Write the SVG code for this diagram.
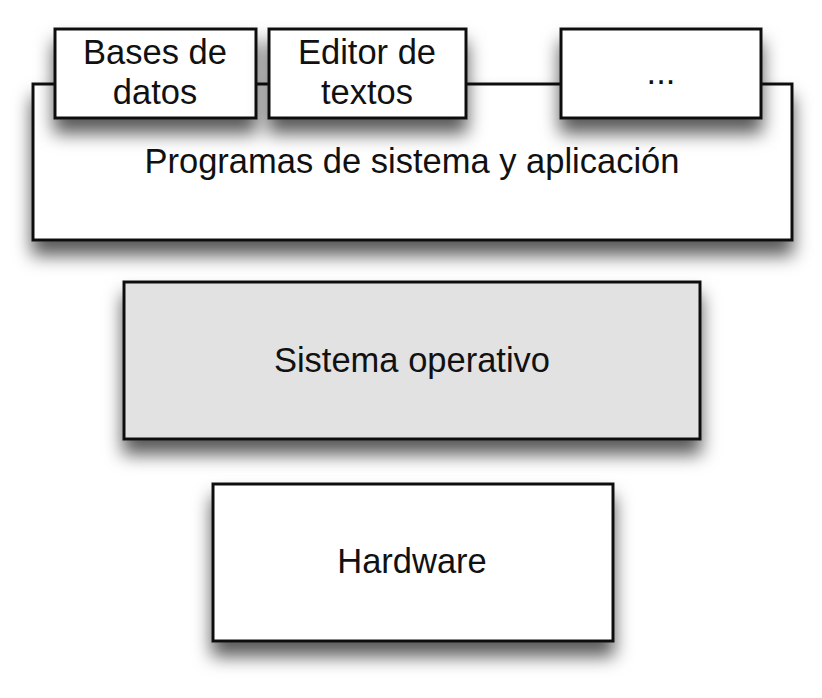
<svg xmlns="http://www.w3.org/2000/svg" width="822" height="698" viewBox="0 0 822 698">
<defs>
<filter id="sh" x="-20%" y="-20%" width="140%" height="180%">
<feDropShadow dx="0" dy="14" stdDeviation="9" flood-color="#000" flood-opacity="0.65"/>
</filter>
<style>
.box{stroke:#111;stroke-width:3;filter:url(#sh)}
.w{fill:#fff}
.g{fill:#e2e2e2}
text{font-family:"Liberation Sans",Arial,sans-serif;font-size:34.5px;fill:#111;text-anchor:middle}
</style>
</defs>
<rect width="822" height="698" fill="#fff"/>
<g id="programas">
<rect class="box w" x="33" y="84" width="759" height="156"/>
<text x="412" y="173">Programas de sistema y aplicación</text>
</g>
<g id="bases">
<rect class="box w" x="55" y="29" width="201" height="89"/>
<text x="155" y="64">Bases de</text>
<text x="155" y="104">datos</text>
</g>
<g id="editor">
<rect class="box w" x="269" y="29" width="197" height="89"/>
<text x="367" y="64">Editor de</text>
<text x="367" y="104">textos</text>
</g>
<g id="otros">
<rect class="box w" x="561" y="29" width="200" height="89"/>
<text x="661" y="84">...</text>
</g>
<g id="so">
<rect class="box g" x="124" y="282" width="576" height="157"/>
<text x="412" y="372">Sistema operativo</text>
</g>
<g id="hardware">
<rect class="box w" x="213" y="484" width="400" height="157"/>
<text x="412" y="573">Hardware</text>
</g>
<g id="connectors"/>
</svg>
